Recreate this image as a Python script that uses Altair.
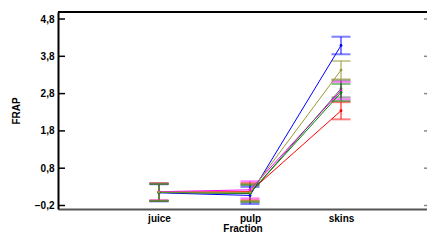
import altair as alt
import pandas as pd

fractions = ["juice", "pulp", "skins"]
series = ["red", "magenta", "blue", "gray", "green", "olive"]
colors = ["#FF0000", "#FF00FF", "#0000FF", "#555555", "#008800", "#999933"]

juice_mean = [0.16, 0.17, 0.14, 0.15, 0.15, 0.16]
pulp_mean = [0.17, 0.22, 0.07, 0.12, 0.13, 0.15]
skins_mean = [2.34, 2.88, 4.09, 2.93, 2.83, 3.43]
juice_err = [0.23, 0.23, 0.23, 0.23, 0.23, 0.23]
pulp_err = [0.23, 0.23, 0.23, 0.23, 0.23, 0.23]
skins_err = [0.23, 0.235, 0.235, 0.23, 0.23, 0.245]

y_ticks = [-0.2, 0.8, 1.8, 2.8, 3.8, 4.8]

rows = []
for i, s in enumerate(series):
    for fi, (m, e) in enumerate([(juice_mean[i], juice_err[i]),
                                  (pulp_mean[i], pulp_err[i]),
                                  (skins_mean[i], skins_err[i])]):
        rows.append({"series": s, "x": fi + 1, "fraction": fractions[fi],
                     "mean": m, "lo": m - e, "hi": m + e})
df = pd.DataFrame(rows)
ticks_df = pd.DataFrame({"t": y_ticks})

W, H = 369, 197
xs = alt.Scale(domain=[-0.11, 3.945], nice=False, zero=False)
ys = alt.Scale(domain=[-0.294, 4.988], nice=False, zero=False)
cs = alt.Scale(domain=series, range=colors)

xaxis = alt.Axis(values=[1, 2, 3], ticks=False, grid=False, labelOverlap=False,
                 labelFlush=False,
                 labelExpr="datum.value == 1 ? 'juice' : datum.value == 2 ? 'pulp' : 'skins'",
                 labelFont="Liberation Sans", labelFontWeight="bold", labelFontSize=10,
                 labelColor="black", labelPadding=4,
                 titleFont="Liberation Sans", titleFontWeight="bold", titleFontSize=10,
                 titleColor="black", titlePadding=0,
                 domainColor="#555555", domainWidth=2)
yaxis = alt.Axis(values=y_ticks, ticks=False, grid=False, labelOverlap=False,
                 labelFlush=False,
                 labelExpr="replace(format(datum.value, '.1f'), '.', ',')",
                 labelFont="Liberation Sans", labelFontWeight="bold", labelFontSize=10,
                 labelColor="black", labelPadding=4,
                 titleFont="Liberation Sans", titleFontWeight="bold", titleFontSize=10,
                 titleColor="black", titlePadding=13,
                 domainColor="black", domainWidth=2)

def X():
    return alt.X("x:Q", scale=xs, title="Fraction", axis=xaxis)

def Y(f):
    return alt.Y(f, scale=ys, title="FRAP", axis=yaxis)

base = alt.Chart(df)
col = alt.Color("series:N", scale=cs, legend=None)

bars = base.mark_rule(strokeWidth=2, opacity=0.5).encode(
    x=X(), y=Y("lo:Q"), y2="hi:Q", color=col)
cap_hi = base.mark_tick(orient="horizontal", size=19, thickness=2, opacity=0.5).encode(
    x=X(), y=Y("hi:Q"), color=col)
cap_lo = base.mark_tick(orient="horizontal", size=19, thickness=2, opacity=0.5).encode(
    x=X(), y=Y("lo:Q"), color=col)
lines = base.mark_line(strokeWidth=1).encode(
    x=X(), y=Y("mean:Q"), color=col, detail="series:N")
pts = base.mark_point(filled=True, size=8, opacity=1).encode(
    x=X(), y=Y("mean:Q"), color=col)

lticks = alt.Chart(ticks_df).mark_rule(color="black", strokeWidth=1.5).encode(
    x=alt.value(0), x2=alt.value(7), y=Y("t:Q"))
rticks = alt.Chart(ticks_df).mark_rule(color="#888888", strokeWidth=1.5).encode(
    x=alt.value(W - 3), x2=alt.value(W), y=Y("t:Q"))
top_line = alt.Chart(ticks_df).mark_rule(color="black", strokeWidth=2).encode(
    x=alt.value(0), x2=alt.value(W), y=alt.value(0))

chart = alt.layer(bars, cap_hi, cap_lo, lines, pts, lticks, rticks, top_line).properties(
    width=W, height=H,
    autosize=alt.AutoSizeParams(type="none"),
    padding={"left": 50, "top": 4, "right": 0, "bottom": 23},
).configure_view(stroke=None).configure(background="white").configure_axis(labelOverlap=False)

chart.save("out.html", embed_options={"renderer": "svg", "actions": False})
